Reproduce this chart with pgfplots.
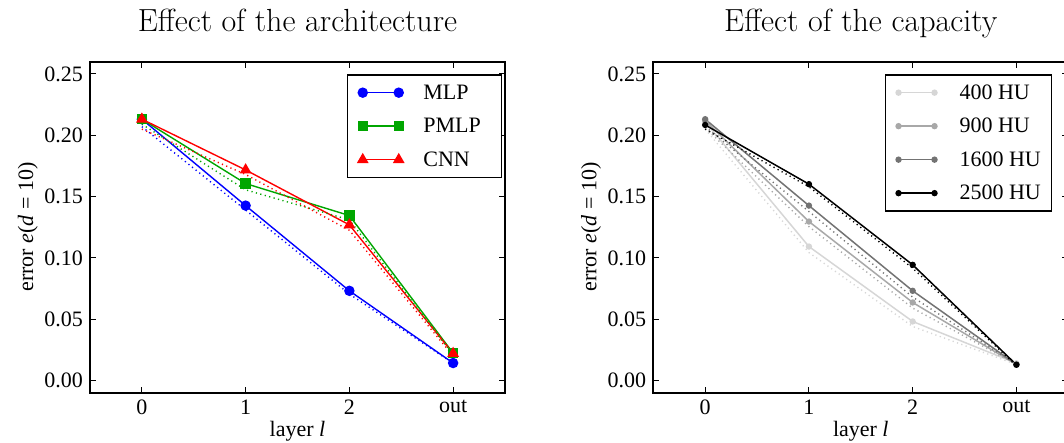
\documentclass[border=0pt]{standalone}
\usepackage{pgfplots}
\pgfplotsset{compat=1.18}
\usepackage{fontspec}
\setmainfont{Liberation Serif}
\newfontfamily\titlefont{Latin Modern Roman}
\definecolor{mgreen}{rgb}{0,0.65,0}
\definecolor{g400}{gray}{0.84}
\definecolor{g900}{gray}{0.66}
\definecolor{g1600}{gray}{0.45}
\definecolor{g2500}{gray}{0}
\pgfplotsset{
  every axis title shift=0pt,
  myaxis/.style={
    scale only axis, width=207.5pt, height=165.5pt,
    xmin=-0.5, xmax=3.5, ymin=-0.01, ymax=0.26,
    xtick={0,1,2,3}, xticklabels={0,1,2,out},
    ytick={0,0.05,0.1,0.15,0.2,0.25},
    yticklabel style={/pgf/number format/.cd,fixed,fixed zerofill,precision=2},
    /pgf/number format/assume math mode=true,
    tick label style={font=\fontsize{11}{13}\selectfont},
    label style={font=\fontsize{11}{13}\selectfont},
    axis line style={line width=0.85pt},
    major tick style={line width=0.5pt, black},
    major tick length=3pt,
    xlabel={layer \textit{l}},
    ylabel={error \textit{e}(\textit{d} = 10)},
    xlabel style={at={(axis description cs:0.5,-0.1338)}, anchor=base},
    ylabel style={at={(axis description cs:-0.1373,0.5)}, anchor=base},
    title style={at={(axis description cs:0.5,1.0927)}, anchor=base, yshift=0pt, font=\titlefont\fontsize{16}{19}\selectfont},
    legend cell align=left,
    legend image code/.code={\draw[##1] plot coordinates {(0pt,0pt) (18pt,0pt)};},
    legend style={anchor=north west, draw=black, line width=0.75pt,
      inner xsep=5.3pt, inner ysep=3.2pt, row sep=5.25pt,
      font=\fontsize{11}{13}\selectfont,
      cells={anchor=west},
      nodes={inner sep=0pt, text height=9pt, text depth=2.5pt}},
  },
  sol/.style={line width=0.7pt, mark options={solid, draw=black, line width=0.4pt}},
  dot/.style={line width=0.7pt, dash pattern=on 0.6pt off 1.7pt, forget plot},
  gsol/.style={line width=0.75pt, mark=*, mark size=1.2pt, mark options={solid}},
}
\begin{document}
\begin{tikzpicture}
\begin{axis}[myaxis, title={Effect of the architecture},
  legend style={at={(axis description cs:0.6186,0.9628)}, column sep=10pt}]
\addplot[sol, blue, mark=*, mark size=2.25pt, mark options={fill=blue}] coordinates {(0,0.2131) (1,0.1426) (2,0.0731) (3,0.0142)};
\addlegendentry{MLP}
\addplot[sol, mgreen, mark=square*, mark size=2.25pt, mark options={fill=mgreen}] coordinates {(0,0.2131) (1,0.1606) (2,0.1345) (3,0.0223)};
\addlegendentry{PMLP\kern5pt}
\addplot[sol, red, mark=triangle*, mark size=2.7pt, mark options={fill=red}] coordinates {(0,0.2131) (1,0.1717) (2,0.1269) (3,0.0220)};
\addlegendentry{CNN}
\addplot[dot, blue] coordinates {(0,0.207) (1,0.139) (2,0.0705) (3,0.014)};
\addplot[dot, mgreen] coordinates {(0,0.209) (1,0.1555) (2,0.131) (3,0.021)};
\addplot[dot, red] coordinates {(0,0.205) (1,0.168) (2,0.1225) (3,0.020)};
\end{axis}
\begin{axis}[myaxis, at={(281.65pt,0pt)}, title={Effect of the capacity},
  legend style={at={(axis description cs:0.5578,0.9628)}, column sep=11.3pt}]
\addplot[gsol, g400] coordinates {(0,0.211) (1,0.1092) (2,0.0481) (3,0.014)};
\addlegendentry{400 HU}
\addplot[gsol, g900] coordinates {(0,0.212) (1,0.1296) (2,0.0636) (3,0.013)};
\addlegendentry{900 HU}
\addplot[gsol, g1600] coordinates {(0,0.2131) (1,0.1426) (2,0.0731) (3,0.013)};
\addlegendentry{1600 HU}
\addplot[gsol, g2500] coordinates {(0,0.2084) (1,0.1601) (2,0.0943) (3,0.0128)};
\addlegendentry{2500 HU}
\addplot[dot, g400] coordinates {(0,0.205) (1,0.1043) (2,0.044) (3,0.013)};
\addplot[dot, g900] coordinates {(0,0.206) (1,0.1255) (2,0.059) (3,0.013)};
\addplot[dot, g1600] coordinates {(0,0.207) (1,0.1378) (2,0.068) (3,0.013)};
\addplot[dot, g2500] coordinates {(0,0.205) (1,0.158) (2,0.0916) (3,0.012)};
\end{axis}
\pgfresetboundingbox
\useasboundingbox (-45pt,-25.15pt) rectangle (487pt,196.35pt);
\end{tikzpicture}
\end{document}
